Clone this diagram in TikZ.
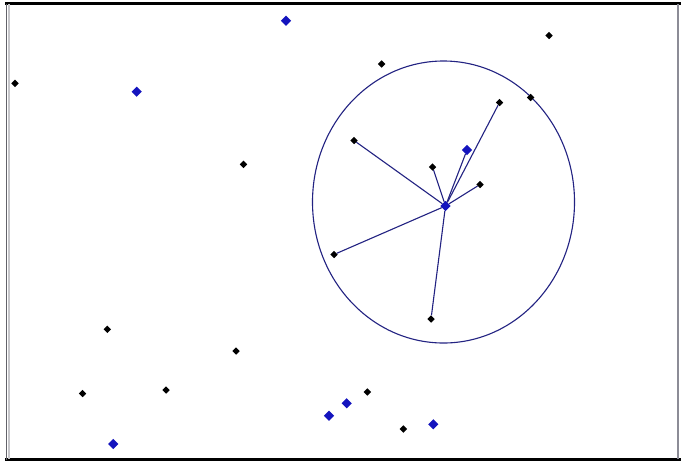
\documentclass[tikz,border=0pt]{standalone}
\usetikzlibrary{shapes.geometric}
\definecolor{SeedBlue}{RGB}{20,20,190}
\definecolor{LinkNavy}{RGB}{35,35,130}
\definecolor{FrameGray}{RGB}{140,140,150}
\tikzset{
  pt/.style={diamond,fill=black,inner sep=0pt,minimum size=0.23cm},
  seed/.style={diamond,fill=SeedBlue,inner sep=0pt,minimum size=0.31cm},
  link/.style={LinkNavy,line width=0.95pt}
}

\begin{document}
\begin{tikzpicture}[x=0.03cm,y=-0.03cm]
        \useasboundingbox (0,0) rectangle (681,462);
        % window frame
        \draw[black,line width=2.1pt] (5,3.5) -- (681,3.5);
        \draw[black,line width=2.1pt] (5,459.5) -- (681,459.5);
        \draw[FrameGray!70!black,line width=1.4pt] (6.5,3.5) -- (6.5,459.5);
        \draw[FrameGray!50,line width=1.1pt] (9,4) -- (9,459);
        \draw[FrameGray,line width=1.4pt] (678,4) -- (678,459);
        % search region
        \draw[link] (443.5,202) ellipse (131 and 141);
        % centre and neighbours
        \node[seed] (c) at (445.5,206) {};
        \node[pt] (n1) at (354,140.5) {};
        \node[pt] (n2) at (432.5,167) {};
        \node[seed] (n3) at (467,150) {};
        \node[pt] (n4) at (499.5,102.5) {};
        \node[pt] (n5) at (480,184.5) {};
        \node[pt] (n6) at (334,254.5) {};
        \node[pt] (n7) at (431,319) {};
        \draw[link] (c) -- (n1);
        \draw[link] (c) -- (n2);
        \draw[link] (c) -- (n3);
        \draw[link] (c) -- (n4);
        \draw[link] (c) -- (n5);
        \draw[link] (c) -- (n6);
        \draw[link] (c) -- (n7);
        % remaining points
        \node[pt] (a1) at (15,83.3) {};
        \node[pt] (a2) at (381.7,64) {};
        \node[pt] (a3) at (549,35.5) {};
        \node[pt] (a4) at (530.7,97.5) {};
        \node[pt] (a5) at (243.5,164.3) {};
        \node[pt] (a6) at (107.3,329.3) {};
        \node[pt] (a7) at (236,351) {};
        \node[pt] (a8) at (82.5,393.5) {};
        \node[pt] (a9) at (166,390) {};
        \node[pt] (a10) at (367.3,392) {};
        \node[pt] (a11) at (403.3,429) {};
        \node[seed] (b1) at (286,20.7) {};
        \node[seed] (b2) at (136.7,91.7) {};
        \node[seed] (b3) at (113.3,444) {};
        \node[seed] (b4) at (329,415.7) {};
        \node[seed] (b5) at (346.7,403.3) {};
        \node[seed] (b6) at (433.3,424.3) {};
      \end{tikzpicture}
\end{document}
